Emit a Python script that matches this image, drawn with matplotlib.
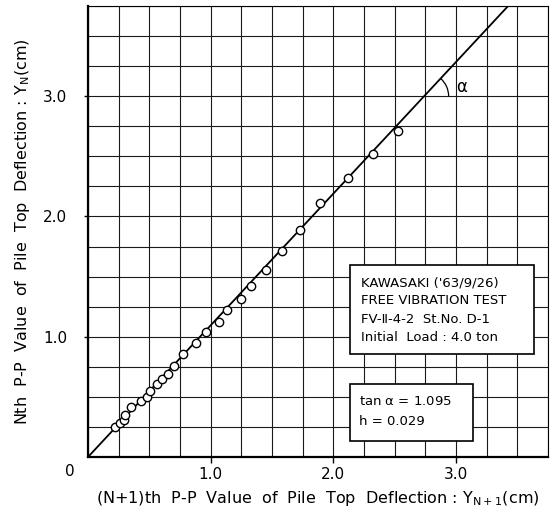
import numpy as np
import matplotlib.pyplot as plt
from matplotlib.patches import Arc, Rectangle

plt.rcParams['font.family'] = ['DejaVu Sans']
plt.rcParams['mathtext.default'] = 'regular'

# (N+1)th and Nth peak-to-peak pile top deflection (cm)
y_next = [0.224, 0.259, 0.293, 0.302, 0.351, 0.431, 0.483, 0.503, 0.562, 0.604,
          0.650, 0.698, 0.771, 0.884, 0.965, 1.070, 1.135, 1.251, 1.329, 1.447,
          1.582, 1.726, 1.892, 2.123, 2.321, 2.525]
y_n = [0.249, 0.285, 0.304, 0.346, 0.415, 0.464, 0.498, 0.553, 0.608, 0.645,
       0.691, 0.760, 0.860, 0.946, 1.040, 1.122, 1.226, 1.313, 1.424, 1.557,
       1.709, 1.886, 2.110, 2.317, 2.516, 2.712]
tan_alpha = 1.095
h_damp = 0.029
info_lines = ["KAWASAKI ('63/9/26)", "FREE VIBRATION TEST",
              "FV-\u2161-4-2  St.No. D-1", "Initial  Load : 4.0 ton"]
ticks = [1.0, 2.0, 3.0]
tick_labels = ['1.0', '2.0', '3.0']
lim = 3.75

fig = plt.figure(figsize=(5.5, 5.15), dpi=100)
ax = fig.add_axes([0.16, 0.1126, 0.8364, 0.8757])

ax.set_xlim(0, lim)
ax.set_ylim(0, lim)
ax.set_xticks(ticks)
ax.set_xticklabels(tick_labels)
ax.set_yticks(ticks)
ax.set_yticklabels(tick_labels)
ax.set_xticks(np.arange(0, lim + 0.01, 0.25), minor=True)
ax.set_yticks(np.arange(0, lim + 0.01, 0.25), minor=True)
ax.grid(which='both', color='#1a1a1a', lw=0.8)
ax.tick_params(which='minor', length=0)
ax.tick_params(axis='x', which='major', length=4, width=1, pad=3, labelsize=11)
ax.tick_params(axis='y', which='major', length=3, width=1, pad=12, labelsize=11)
for s in ['left', 'bottom']:
    ax.spines[s].set_linewidth(1.6)
for s in ['top', 'right']:
    ax.spines[s].set_linewidth(0.8)
ax.set_axisbelow(True)

# fitted line Y_N = tan(alpha) * Y_N+1
x_line = np.array([0, lim / tan_alpha])
ax.plot(x_line, tan_alpha * x_line, color='black', lw=1.3, zorder=3)
ax.plot(y_next, y_n, 'o', mfc='white', mec='black', mew=1.0, ms=6, zorder=4)

# angle alpha
ang = np.degrees(np.arctan(tan_alpha))
ax.add_patch(Arc((3.0 / tan_alpha, 3.0), 0.4, 0.4, theta1=0, theta2=ang,
                 color='black', lw=0.9, zorder=4))
ax.text(3.0, 3.08, r'$\alpha$', fontsize=12, ha='left', va='center', zorder=5)

# info boxes
ax.add_patch(Rectangle((2.136, 0.856), 1.496, 0.741, fc='white', ec='black',
                       lw=1.2, zorder=5))
for i, t in enumerate(info_lines):
    ax.text(2.225, 1.45 - i * 0.152, t, fontsize=9.5, va='center', ha='left',
            zorder=6)
ax.add_patch(Rectangle((2.136, 0.132), 1.003, 0.477, fc='white', ec='black',
                       lw=1.2, zorder=5))
ax.text(2.21, 0.461, r'tan $\alpha$ = %.3f' % tan_alpha, fontsize=9.5,
        va='center', ha='left', zorder=6)
ax.text(2.21, 0.296, 'h = %.3f' % h_damp, fontsize=9.5, va='center',
        ha='left', zorder=6)

ax.text(-0.15, -0.12, '0', fontsize=11, ha='center', va='center')
ax.set_xlabel('(N+1)th  P-P  Value  of  Pile  Top  Deflection : Y$_{N+1}$(cm)',
              fontsize=11.5, labelpad=5)
ax.set_ylabel('Nth  P-P  Value  of  Pile  Top  Deflection : Y$_{N}$(cm)',
              fontsize=11.5, labelpad=8)

fig.savefig('out.png', dpi=100)
